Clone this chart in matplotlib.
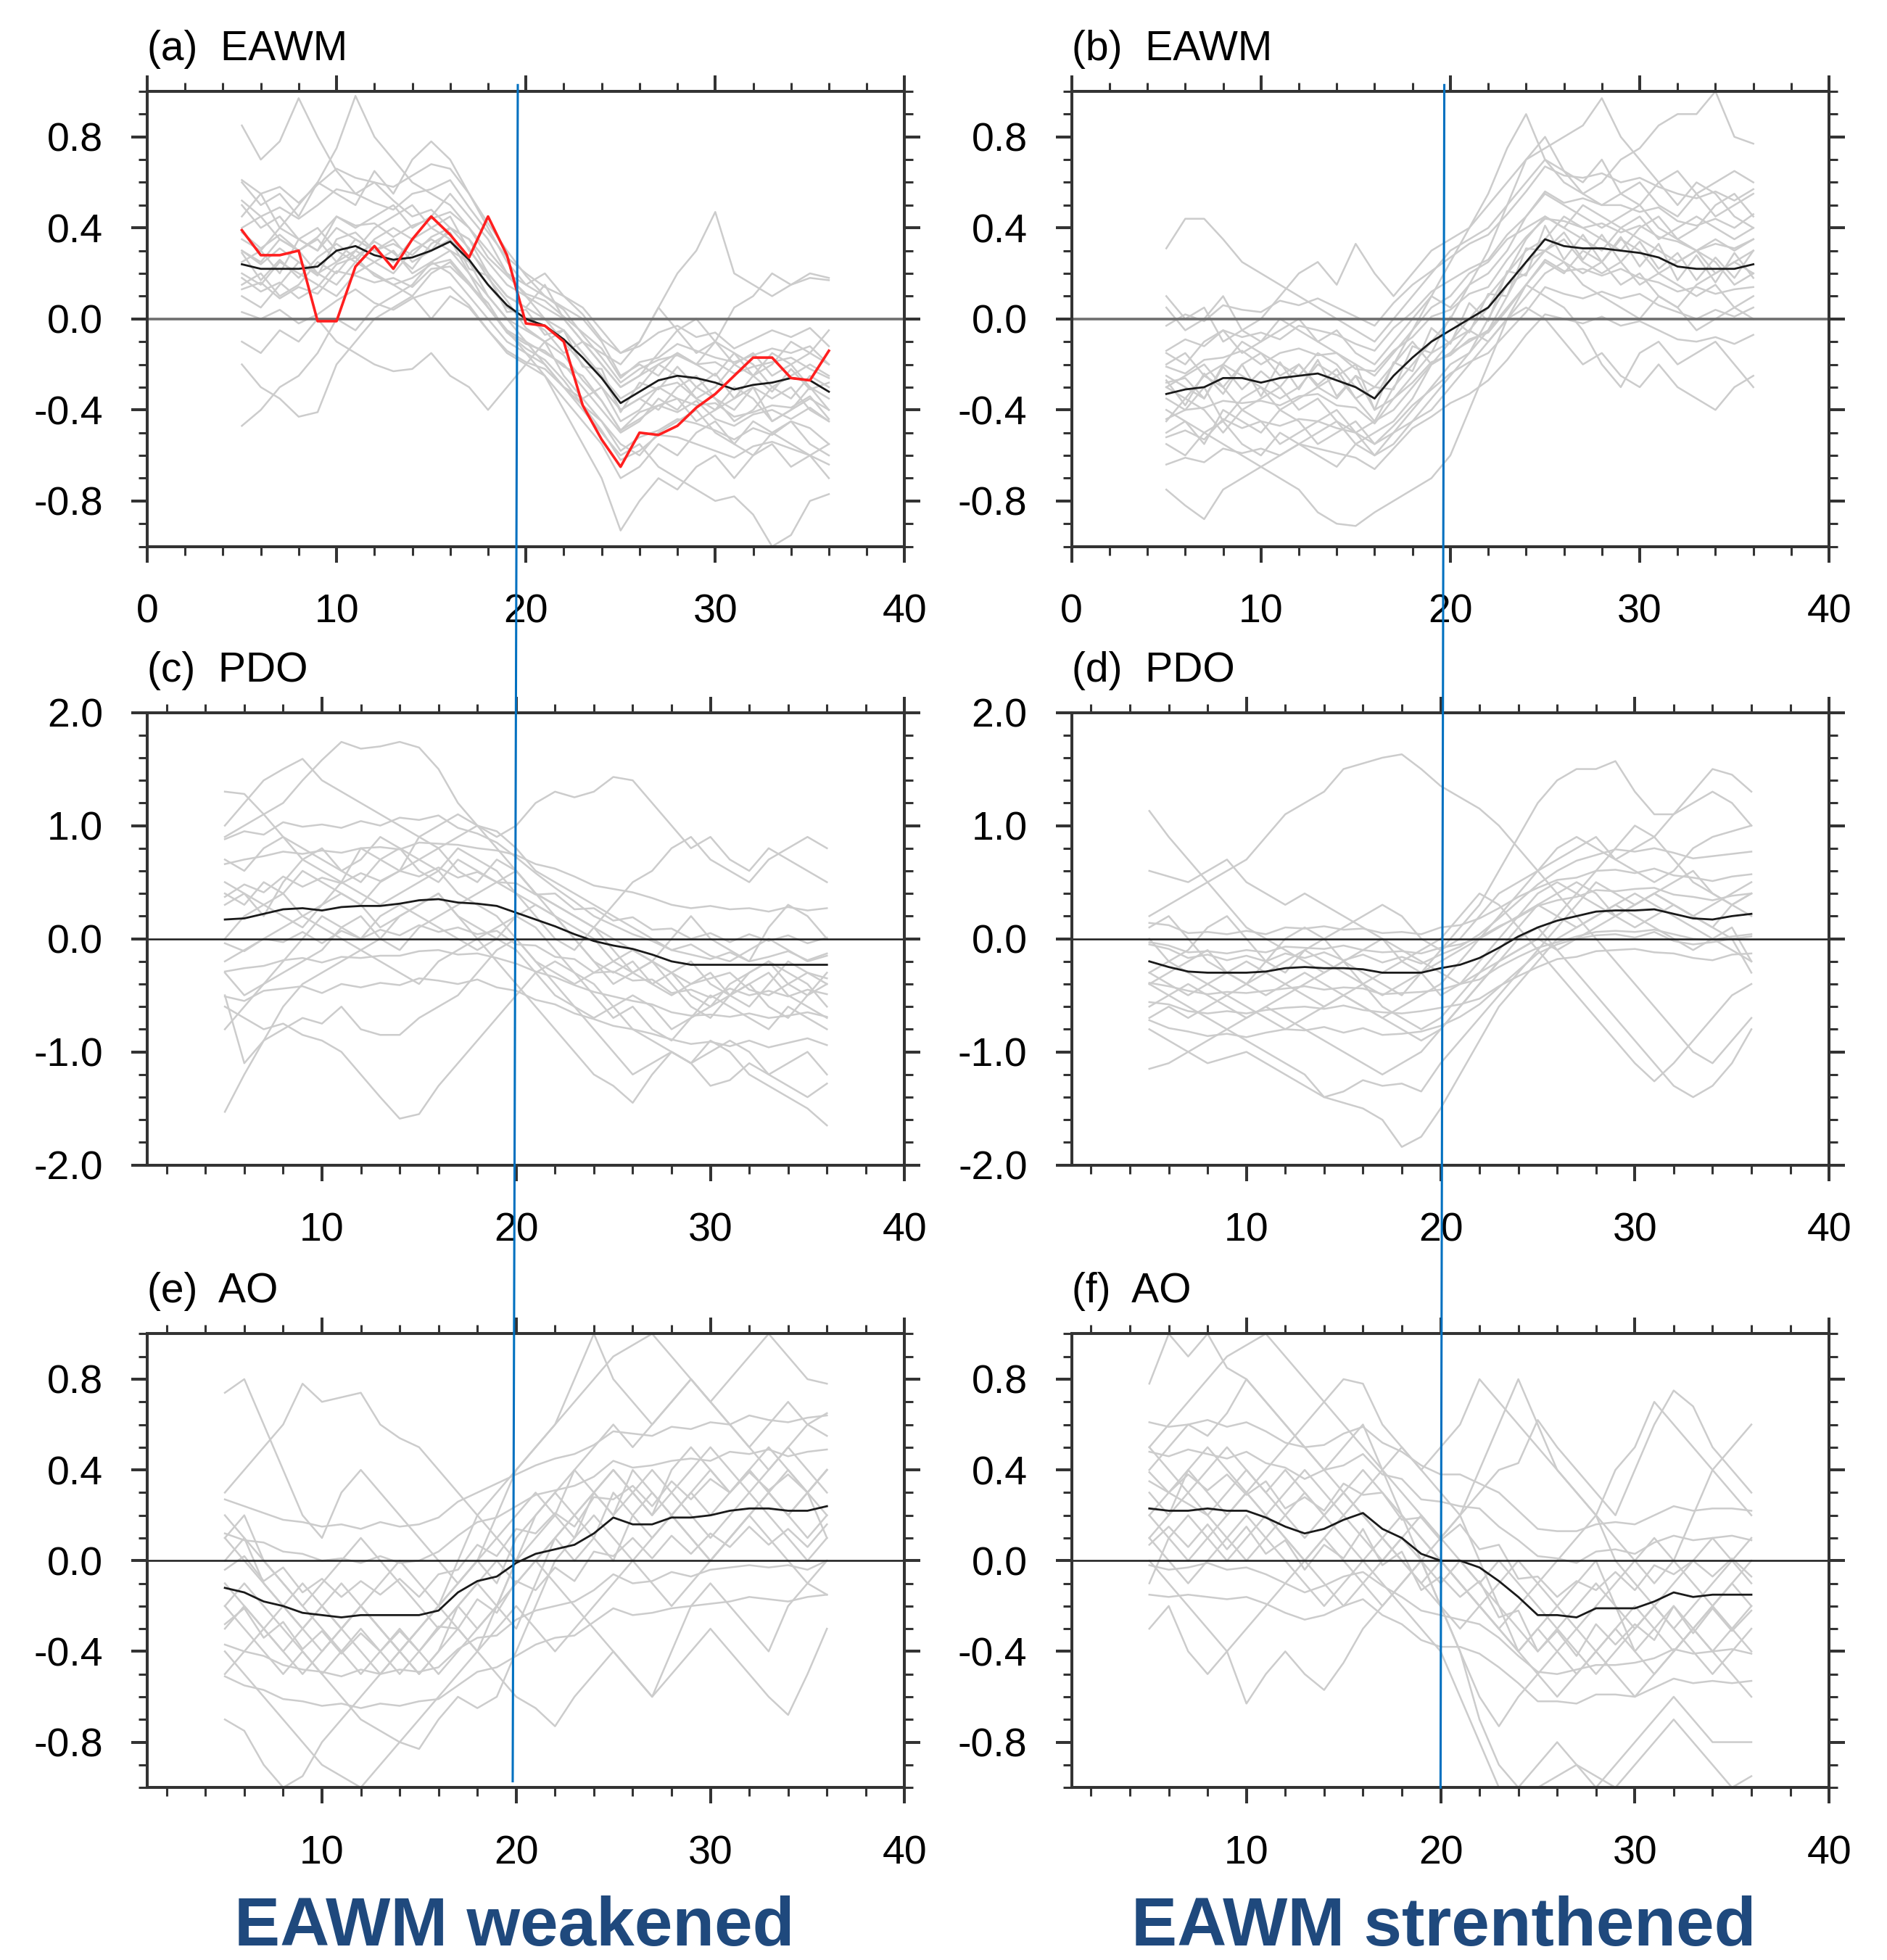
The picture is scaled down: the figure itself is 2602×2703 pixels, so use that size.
import numpy as np
import matplotlib
matplotlib.use('Agg')
import matplotlib.pyplot as plt
from matplotlib.lines import Line2D
from matplotlib.ticker import FixedLocator, MultipleLocator, FormatStrFormatter

plt.rcParams['font.family'] = ['Liberation Sans', 'DejaVu Sans']
plt.rcParams['axes.unicode_minus'] = False

# lead/lag (years), all series below are x100
days = list(range(5, 37))

# (a) EAWM, weakened
a_mean = [24, 22, 22, 22, 23, 30, 32, 28, 26, 27, 30, 34, 26, 15, 6, 0,
          -3, -9, -17, -26, -37, -32, -27, -25, -26, -28, -31, -29, -28, -26, -27, -32]
a_obs = [39, 28, 28, 30, -1, -1, 23, 32, 22, 35, 45, 37, 27, 45, 28, -2,
         -3, -10, -38, -53, -65, -50, -51, -47, -39, -33, -25, -17, -17, -26, -27, -14]
a_members = [
    [85, 70, 78, 97, 80, 65, 55, 60, 52, 45, 48, 40, 35, 25, 15, 10, 5, 0, -10, -20, -30, -25, -20, -15, -20, -25, -15, -20, -30, -25, -20, -25],
    [45, 55, 40, 50, 60, 75, 98, 80, 70, 60, 55, 50, 40, 30, 20, 10, 0, -5, -15, -25, -40, -35, -30, -28, -35, -40, -35, -30, -45, -40, -35, -40],
    [-47, -40, -30, -25, -15, 0, -5, 5, 10, 15, 25, 20, 10, 0, -10, -15, -20, -30, -35, -45, -55, -60, -50, -45, -40, -50, -55, -45, -50, -55, -60, -55],
    [-20, -30, -35, -43, -41, -20, -10, 0, 5, 10, 0, 10, 5, -5, -15, -20, -25, -35, -45, -55, -70, -65, -55, -60, -50, -45, -55, -60, -50, -45, -55, -60],
    [60, 50, 55, 45, 60, 55, 50, 65, 55, 70, 78, 70, 55, 40, 25, 15, 20, 10, 5, -5, -15, -10, 5, -5, -15, -10, -20, -15, -25, -20, -15, -20],
    [30, 25, 35, 30, 20, 25, 35, 30, 25, 35, 40, 45, 30, 20, 10, 5, 15, 0, -10, -15, -20, -10, 5, 20, 30, 47, 20, 15, 10, 15, 20, 18],
    [15, 20, 10, 15, 25, 20, 30, 25, 20, 30, 35, 30, 20, 5, -5, -15, -25, -40, -55, -70, -93, -80, -70, -75, -65, -60, -70, -60, -55, -65, -60, -70],
    [35, 30, 40, 35, 30, 40, 35, 30, 35, 25, 30, 35, 20, 10, 0, -10, -20, -30, -40, -50, -60, -55, -65, -70, -75, -80, -78, -86, -100, -95, -80, -77],
    [-10, -15, -5, -10, 0, -10, -15, -20, -23, -22, -15, -25, -30, -40, -30, -20, -10, -25, -35, -30, -45, -40, -30, -35, -45, -40, -30, -35, -45, -40, -30, -35],
    [20, 15, 25, 20, 15, 10, 20, 25, 30, 20, 25, 30, 25, 15, 5, 0, -5, -15, -10, -20, -30, -25, -15, -5, 0, -10, 5, 10, 20, 15, 18, 17],
    [25, 30, 20, 35, 40, 30, 25, 35, 40, 35, 30, 40, 35, 20, 10, 5, 0, -10, -20, -30, -40, -35, -40, -30, -25, -35, -40, -30, -35, -30, -40, -45],
    [50, 40, 45, 35, 30, 45, 40, 45, 50, 40, 45, 55, 45, 35, 20, 15, 10, 5, 0, -10, -25, -20, -25, -15, -20, -10, -15, -25, -20, -10, -15, -5],
    [10, 5, 15, 25, 20, 15, 25, 20, 15, 10, 20, 25, 15, 5, -5, -10, -15, -20, -30, -40, -50, -45, -35, -40, -30, -35, -45, -40, -30, -35, -25, -30],
    [40, 45, 35, 30, 35, 25, 30, 40, 45, 50, 40, 35, 25, 10, 0, -5, -10, -5, -15, -25, -35, -30, -20, -25, -35, -30, -20, -25, -15, -20, -30, -40],
    [52, 45, 49, 44, 50, 57, 55, 51, 48, 55, 57, 61, 49, 38, 27, 20, 14, 10, 2, -9, -15, -12, -6, -3, -8, -6, -13, -9, -5, -8, -4, -12],
    [3, 0, 4, -2, 2, 8, 13, 7, 4, 9, 12, 14, 6, -5, -14, -19, -22, -30, -38, -45, -58, -52, -49, -44, -46, -49, -53, -48, -51, -45, -48, -55],
    [38, 31, 37, 30, 36, 45, 41, 42, 36, 41, 44, 47, 40, 27, 19, 11, 8, 1, -6, -13, -26, -19, -17, -11, -14, -17, -19, -16, -13, -15, -12, -20],
    [13, 16, 9, 14, 11, 21, 19, 16, 18, 14, 22, 23, 15, 7, -6, -11, -14, -21, -25, -36, -49, -41, -38, -35, -38, -37, -43, -41, -38, -39, -34, -44],
    [61, 55, 58, 51, 59, 66, 62, 60, 58, 63, 68, 66, 55, 42, 30, 19, 10, 4, -7, -17, -28, -22, -18, -16, -20, -19, -24, -21, -19, -17, -22, -26],
    [18, 12, 16, 9, 14, 24, 27, 19, 15, 18, 24, 26, 16, 5, -6, -13, -18, -27, -38, -49, -62, -58, -51, -52, -55, -58, -61, -56, -54, -57, -60, -64],
    [29, 17, 26, 18, 27, 33, 27, 34, 29, 22, 33, 38, 22, 19, 3, 4, -7, -5, -21, -22, -41, -28, -31, -21, -30, -24, -35, -25, -32, -22, -31, -28],
    [30, 24, 31, 25, 19, 35, 38, 30, 33, 28, 36, 40, 31, 18, 8, -4, -10, -16, -27, -36, -49, -44, -38, -41, -36, -44, -47, -42, -40, -44, -39, -45],
]

# (b) EAWM, strengthened
b_mean = [-33, -31, -30, -26, -26, -28, -26, -25, -24, -27, -30, -35, -25, -17, -10, -5,
          0, 5, 15, 25, 35, 32, 31, 31, 30, 29, 27, 23, 22, 22, 22, 24]
b_members = [
    [31, 44, 44, 35, 25, 20, 15, 10, 5, 0, -5, -10, 0, 10, 20, 30, 35, 40, 50, 60, 70, 60, 55, 50, 55, 60, 50, 45, 55, 60, 65, 60],
    [-75, -82, -88, -75, -70, -65, -60, -55, -50, -45, -55, -60, -50, -45, -40, -30, -20, -10, 0, 10, 20, 25, 15, 10, 5, 0, 10, 5, -5, 0, 5, 10],
    [-40, -45, -50, -55, -60, -65, -70, -75, -85, -90, -91, -85, -80, -75, -70, -60, -40, -20, 0, 15, 25, 20, 30, 25, 15, 20, 10, 5, 15, 20, 25, 20],
    [10, 0, 5, -10, -5, 0, 10, 20, 25, 15, 33, 20, 10, 20, 30, 35, 40, 50, 60, 70, 80, 65, 60, 70, 55, 50, 60, 65, 55, 45, 50, 55],
    [-30, -35, -25, -30, -40, -35, -30, -40, -35, -45, -50, -45, -30, -20, -10, 0, 15, 30, 50, 70, 75, 80, 85, 97, 80, 70, 60, 50, 60, 55, 45, 40],
    [-20, -15, -25, -20, -10, -15, -20, -25, -15, -20, -30, -35, -20, -5, 10, 25, 40, 55, 75, 90, 70, 65, 55, 60, 70, 75, 85, 90, 90, 100, 80, 77],
    [-35, -40, -30, -45, -35, -30, -40, -35, -30, -25, -35, -45, -40, -30, -20, -10, -5, -10, 0, 5, 0, -10, -20, -15, -25, -30, -20, -30, -35, -40, -30, -25],
    [-50, -45, -55, -40, -45, -50, -40, -45, -55, -50, -45, -55, -50, -40, -30, -20, -15, -5, 5, 15, 10, 5, -5, -20, -30, -15, -10, -20, -15, -10, -20, -30],
    [-15, -20, -10, -5, -15, -10, 0, -5, -10, -15, -20, -25, -15, -5, 5, 10, 20, 25, 35, 40, 45, 40, 35, 30, 40, 35, 30, 25, 30, 35, 30, 35],
    [-25, -30, -35, -20, -25, -30, -35, -30, -20, -25, -20, -40, -35, -25, -15, -10, 0, 10, 20, 30, 35, 45, 40, 35, 30, 40, 45, 35, 30, 20, 25, 30],
    [-45, -35, -40, -50, -40, -45, -55, -50, -45, -40, -50, -60, -55, -45, -35, -25, -15, 0, 15, 20, 30, 25, 20, 25, 35, 30, 20, 15, 10, 15, 5, 0],
    [5, -5, 0, 10, -5, -10, -5, 0, -10, -5, -15, -20, -10, 0, 10, 5, 15, 20, 30, 45, 55, 50, 45, 40, 45, 50, 40, 35, 40, 50, 55, 45],
    [-55, -60, -50, -45, -55, -60, -50, -55, -60, -65, -55, -50, -45, -35, -20, -15, -10, -5, 10, 25, 30, 35, 25, 20, 25, 15, 20, 25, 30, 25, 15, 20],
    [-30, -25, -20, -30, -20, -15, -25, -20, -30, -35, -25, -30, -20, -10, -20, -15, -5, 5, 20, 35, 45, 40, 50, 45, 40, 45, 35, 40, 45, 40, 35, 40],
    [-14, -9, -12, -5, -8, -6, -9, -3, -5, -7, -11, -14, -4, 3, 12, 17, 22, 26, 37, 45, 56, 51, 53, 50, 50, 47, 49, 43, 41, 44, 40, 46],
    [-52, -49, -53, -44, -48, -45, -47, -44, -45, -48, -50, -55, -47, -38, -31, -24, -19, -15, -6, 3, 14, 11, 9, 12, 9, 11, 6, 3, 0, 4, 1, 5],
    [-21, -24, -18, -17, -14, -20, -15, -13, -16, -15, -22, -23, -14, -8, 1, 4, 11, 14, 26, 36, 44, 43, 40, 42, 38, 41, 36, 34, 30, 33, 31, 35],
    [-44, -40, -39, -36, -37, -36, -38, -34, -33, -38, -39, -46, -35, -28, -19, -16, -9, -6, 4, 15, 26, 21, 22, 19, 22, 18, 16, 12, 14, 11, 13, 14],
    [-3, 2, -1, 6, 4, 3, 8, 6, 9, 5, 1, -3, 7, 15, 21, 27, 33, 37, 46, 56, 67, 63, 62, 64, 60, 62, 58, 55, 53, 56, 52, 57],
    [-64, -61, -63, -57, -59, -57, -60, -55, -57, -59, -61, -66, -57, -48, -43, -37, -33, -27, -18, -7, 2, 0, -2, 1, -3, -1, -5, -9, -10, -8, -11, -7],
    [-27, -38, -24, -33, -20, -34, -19, -31, -18, -34, -25, -40, -19, -23, -4, -11, 7, -1, 21, 19, 41, 26, 37, 25, 36, 23, 33, 17, 28, 16, 29, 18],
    [-28, -26, -35, -21, -31, -23, -30, -20, -29, -22, -35, -30, -31, -12, -15, 1, -6, 11, 10, 31, 30, 38, 26, 37, 25, 34, 22, 29, 17, 27, 18, 30],
]

# (c) PDO, weakened
c_mean = [17, 18, 22, 26, 27, 25, 28, 29, 29, 31, 34, 35, 32, 31, 29, 23,
          17, 11, 4, -2, -6, -9, -14, -20, -23, -23, -23, -23, -23, -23, -23, -23]
c_members = [
    [90, 100, 110, 120, 140, 158, 174, 168, 170, 174, 169, 150, 120, 100, 80, 60, 40, 30, 20, 10, 0, -10, -20, -30, -40, -35, -30, -45, -50, -40, -30, -35],
    [100, 120, 140, 150, 159, 140, 130, 120, 110, 100, 90, 80, 90, 100, 95, 80, 60, 50, 40, 30, 20, 10, 0, -10, -5, -15, -20, -10, 0, -10, -20, -15],
    [-153, -120, -90, -60, -40, -30, -20, -10, -20, -30, -40, -20, -10, 0, 10, 20, 30, 20, 10, 0, -20, -30, -20, -40, -60, -70, -50, -40, -30, -50, -60, -70],
    [-60, -70, -80, -75, -85, -90, -100, -120, -140, -159, -155, -130, -110, -90, -70, -50, -30, -20, -30, -40, -60, -80, -90, -100, -110, -100, -90, -100, -120, -110, -100, -120],
    [-50, -110, -90, -80, -70, -75, -60, -80, -85, -85, -70, -60, -50, -30, -10, 0, -20, -40, -60, -80, -100, -120, -110, -100, -110, -130, -125, -110, -120, -130, -140, -128],
    [30, 40, 20, 50, 70, 60, 50, 80, 70, 60, 90, 100, 110, 100, 90, 100, 120, 130, 125, 130, 143, 140, 120, 100, 80, 90, 70, 60, 80, 70, 60, 50],
    [130, 128, 110, 90, 80, 70, 60, 50, 70, 80, 60, 50, 70, 60, 50, 40, 20, 0, -10, 10, 30, 50, 60, 80, 90, 70, 60, 50, 70, 80, 90, 80],
    [40, 30, 50, 40, 20, 30, 40, 30, 10, 20, 30, 40, 20, 0, -20, -40, -60, -80, -100, -120, -130, -145, -120, -100, -110, -90, -100, -120, -130, -140, -150, -165],
    [70, 60, 80, 90, 70, 80, 60, 70, 90, 80, 70, 60, 80, 70, 60, 40, 30, 20, 0, -20, -30, -20, -40, -50, -40, -30, -50, -60, -40, -20, -30, -40],
    [-20, -10, 0, 10, 20, 10, 0, -10, 0, 20, 30, 40, 20, 10, 0, -10, -30, -50, -60, -70, -60, -50, -60, -80, -70, -60, -50, -40, -60, -70, -50, -40],
    [0, 20, 30, 20, 10, 30, 50, 40, 30, 40, 50, 60, 40, 30, 20, 0, -20, -30, -40, -30, -20, -10, -20, -30, -50, -60, -40, -30, -20, -30, -40, -60],
    [-80, -60, -40, -30, -20, -10, 10, 20, 0, -10, 10, 20, 30, 40, 50, 60, 40, 20, 0, -20, -40, -30, -20, 0, 20, 0, -10, -20, 10, 30, 20, 0],
    [50, 40, 30, 40, 60, 50, 40, 30, 50, 60, 70, 80, 60, 50, 70, 60, 40, 30, 20, 10, -10, -30, -40, -30, -20, -40, -50, -30, -20, -40, -50, -30],
    [-30, -50, -40, -20, 0, 20, 10, 0, 20, 30, 20, 10, 0, -10, 0, 20, 10, -10, -30, -50, -70, -60, -80, -90, -70, -50, -60, -70, -80, -60, -70, -80],
    [66, 70, 73, 77, 75, 78, 76, 80, 81, 79, 85, 84, 83, 80, 78, 74, 66, 62, 55, 47, 44, 41, 36, 30, 27, 29, 26, 27, 24, 28, 25, 27],
    [-29, -26, -24, -19, -17, -21, -16, -17, -15, -15, -11, -10, -14, -13, -17, -22, -29, -34, -41, -47, -51, -55, -58, -65, -68, -67, -69, -66, -70, -68, -65, -69],
    [37, 48, 41, 55, 46, 54, 49, 58, 51, 60, 55, 63, 54, 59, 50, 49, 39, 40, 26, 27, 16, 19, 8, 9, 0, 5, -3, 4, -2, 3, -4, 1],
    [-4, -11, 0, -3, 6, -4, 7, 0, 8, 3, 12, 6, 10, 4, 7, -5, -6, -16, -18, -30, -29, -37, -36, -48, -45, -52, -44, -50, -46, -51, -45, -49],
    [88, 95, 92, 103, 99, 101, 98, 104, 100, 107, 105, 109, 98, 93, 85, 72, 58, 45, 33, 20, 12, 4, -2, -10, -14, -18, -12, -20, -16, -11, -19, -13],
    [-51, -55, -46, -44, -42, -48, -40, -43, -39, -41, -35, -37, -40, -36, -43, -46, -54, -58, -66, -71, -77, -80, -84, -89, -93, -91, -95, -90, -96, -92, -88, -94],
]

# (d) PDO, strengthened
d_mean = [-20, -25, -29, -30, -30, -30, -29, -26, -25, -26, -26, -27, -30, -30, -30, -26,
          -23, -17, -8, 2, 10, 16, 20, 24, 25, 25, 26, 22, 18, 17, 20, 22]
d_members = [
    [113, 90, 70, 50, 30, 10, 0, -10, -20, -30, -20, -10, 0, -10, -20, -30, -40, -30, -20, -10, 0, 20, 40, 60, 80, 100, 90, 70, 50, 40, 30, 20],
    [20, 30, 40, 50, 60, 70, 90, 110, 120, 130, 150, 155, 160, 163, 150, 135, 125, 115, 100, 80, 60, 40, 20, 0, -20, -40, -60, -80, -100, -110, -90, -70],
    [-80, -90, -100, -110, -105, -100, -110, -120, -130, -140, -145, -150, -160, -184, -175, -150, -120, -90, -60, -40, -20, 0, 10, 20, 30, 20, 10, 0, -10, 0, 10, -20],
    [-60, -50, -40, -50, -60, -70, -60, -50, -40, -30, -20, -30, -40, -50, -30, -10, 10, 30, 60, 90, 120, 140, 150, 150, 157, 130, 110, 110, 120, 130, 120, 100],
    [60, 55, 50, 60, 70, 50, 40, 30, 40, 30, 20, 10, 0, -20, -30, -20, -10, 0, 20, 40, 60, 80, 90, 80, 70, 80, 90, 110, 130, 150, 145, 130],
    [-30, -40, -50, -40, -30, -20, -30, -40, -50, -60, -50, -40, -30, -20, -10, 0, 20, 40, 30, 10, -10, -30, -50, -70, -90, -110, -126, -110, -90, -70, -50, -40],
    [-115, -110, -100, -90, -80, -70, -60, -70, -80, -90, -100, -110, -120, -110, -100, -80, -60, -40, -20, 0, 10, -10, -30, -50, -70, -90, -110, -130, -140, -130, -110, -80],
    [-40, -50, -60, -70, -80, -90, -100, -110, -120, -140, -135, -125, -130, -128, -135, -110, -90, -70, -50, -30, -10, 10, 30, 50, 40, 30, 40, 50, 60, 40, 30, 40],
    [0, -20, -10, 10, 20, 0, -20, -30, -10, 0, 10, 20, 30, 20, 0, -10, 0, 20, 40, 50, 60, 70, 80, 90, 70, 60, 50, 60, 80, 90, 95, 100],
    [-40, -30, -20, -10, -30, -40, -50, -40, -30, -40, -50, -60, -70, -60, -50, -40, -20, 0, 10, 20, 30, 20, 10, 20, 30, 40, 30, 20, 10, 0, -10, -20],
    [10, 20, 0, -20, -30, -40, -20, 0, 10, 0, -20, -40, -60, -70, -80, -70, -50, -30, -10, 10, 30, 40, 50, 40, 20, 10, 20, 30, 20, 10, 30, 40],
    [-70, -60, -70, -60, -50, -60, -70, -80, -70, -60, -50, -60, -70, -80, -90, -80, -60, -40, -20, -10, 0, -10, 0, 10, 20, 30, 40, 30, 20, 10, 0, -30],
    [-30, -20, -30, -40, -50, -40, -30, -20, -10, -20, -30, -40, -50, -40, -30, -50, -40, -20, 0, 20, 40, 50, 40, 30, 20, 30, 40, 30, 20, 30, 40, 50],
    [14, 12, 5, 6, 4, 7, 4, 10, 9, 11, 8, 9, 5, 6, 4, 10, 12, 18, 27, 37, 45, 52, 54, 60, 61, 58, 62, 56, 54, 51, 55, 57],
    [-56, -58, -64, -66, -64, -66, -63, -61, -60, -62, -59, -63, -65, -66, -64, -61, -58, -53, -42, -33, -25, -18, -16, -11, -10, -9, -12, -13, -17, -19, -14, -13],
    [-3, -6, -12, -11, -13, -10, -12, -7, -8, -9, -6, -10, -12, -11, -13, -8, -5, 1, 11, 19, 29, 34, 37, 43, 42, 44, 45, 39, 37, 34, 38, 40],
    [-39, -42, -46, -49, -47, -48, -46, -44, -42, -45, -43, -44, -49, -48, -47, -45, -40, -36, -25, -16, -8, -3, 2, 6, 7, 6, 8, 4, 0, -1, 2, 4],
    [-5, -9, -17, -14, -19, -15, -20, -13, -17, -12, -19, -14, -21, -16, -22, -14, -7, 4, 18, 33, 48, 60, 69, 74, 79, 77, 80, 76, 71, 73, 75, 77],
    [-72, -79, -82, -86, -84, -87, -83, -80, -81, -78, -83, -79, -85, -84, -82, -77, -69, -58, -43, -28, -13, -5, 0, 3, 4, 1, 6, -2, -5, -3, 0, 2],
]

# (e) AO, weakened
e_mean = [-12, -14, -18, -20, -23, -24, -25, -24, -24, -24, -24, -22, -14, -9, -7, -1,
          3, 5, 7, 12, 19, 16, 16, 19, 19, 20, 22, 23, 23, 22, 22, 24]
e_members = [
    [74, 80, 60, 40, 20, 10, 30, 40, 30, 20, 10, 0, -10, 0, 10, 20, 30, 20, 10, 30, 40, 30, 20, 40, 50, 40, 30, 40, 50, 40, 30, 40],
    [30, 40, 50, 60, 78, 70, 72, 74, 60, 54, 50, 40, 30, 20, 10, 0, 10, 20, 40, 50, 60, 50, 60, 70, 80, 70, 60, 50, 40, 50, 60, 55],
    [-70, -75, -90, -100, -95, -80, -70, -60, -50, -40, -30, -20, -30, -40, -20, 0, 20, 30, 40, 30, 20, 30, 40, 30, 20, 10, 20, 30, 20, 10, 0, 10],
    [-40, -50, -60, -70, -80, -90, -95, -100, -90, -80, -70, -60, -50, -40, -30, -20, -30, -40, -30, -20, -10, 0, 10, 20, 10, 0, 10, 20, 30, 20, 10, 20],
    [-20, -30, -40, -50, -40, -50, -60, -70, -75, -80, -83, -70, -60, -65, -60, -40, -20, 0, 10, 20, 10, 0, -10, -20, -10, 0, 10, 20, 10, 0, -10, 0],
    [-10, -20, -30, -20, -10, -20, -30, -20, -10, 0, -10, -20, 0, 20, 30, 40, 50, 60, 80, 100, 80, 70, 60, 70, 80, 70, 60, 50, 60, 70, 60, 65],
    [10, 0, -10, -20, -30, -40, -30, -20, -30, -40, -30, -20, -10, 0, 20, 40, 50, 60, 70, 80, 90, 95, 100, 90, 80, 70, 80, 90, 100, 90, 80, 78],
    [0, 10, -10, -20, -30, -20, -10, -20, -30, -40, -50, -40, -30, -40, -50, -60, -65, -73, -60, -50, -40, -50, -60, -40, -20, -10, -20, -30, -40, -20, -10, -15],
    [20, 10, 0, -10, -20, -30, -40, -50, -40, -30, -40, -50, -40, -30, -20, -10, 0, -10, -20, -30, -40, -50, -60, -50, -40, -30, -40, -50, -60, -68, -50, -30],
    [-30, -20, -30, -40, -30, -20, -30, -40, -50, -40, -30, -20, -10, 0, -10, 10, 20, 30, 20, 30, 40, 30, 20, 30, 40, 50, 40, 30, 40, 50, 40, 30],
    [-50, -40, -30, -40, -50, -40, -30, -20, -30, -40, -50, -40, -20, -10, 0, -10, 0, 10, 20, 10, 0, 20, 30, 20, 10, 0, 10, 20, 30, 40, 30, 20],
    [10, 20, 0, -10, -20, -10, 0, 10, 0, -10, -20, -30, -20, -10, -20, -30, -10, 10, 20, 30, 20, 40, 30, 20, 30, 20, 30, 40, 30, 20, 30, 40],
    [-20, -10, -20, -30, -40, -50, -40, -30, -40, -50, -40, -30, -20, -30, -20, 0, 0, 10, 0, 10, 30, 20, 10, 20, 30, 40, 30, 40, 30, 20, 30, 10],
    [12, 9, 8, 4, 3, 0, 1, -1, 2, -1, 0, 4, 11, 17, 19, 24, 29, 31, 33, 37, 44, 41, 42, 44, 45, 44, 48, 47, 49, 46, 48, 49],
    [-37, -40, -42, -46, -48, -49, -51, -48, -50, -48, -49, -47, -39, -34, -33, -26, -22, -20, -18, -13, -6, -10, -9, -5, -7, -4, -3, -2, -3, -2, -4, 0],
    [-4, 2, -9, -3, -14, -8, -16, -9, -15, -8, -16, -6, -4, 7, 2, 14, 12, 21, 15, 28, 27, 33, 24, 35, 27, 36, 30, 39, 31, 38, 30, 40],
    [-28, -21, -34, -27, -39, -31, -41, -32, -40, -31, -40, -29, -30, -17, -23, -9, -13, -3, -9, 4, 2, 10, 1, 11, 3, 12, 6, 15, 7, 14, 6, 16],
    [27, 24, 21, 18, 17, 15, 16, 14, 17, 15, 16, 19, 26, 30, 34, 38, 42, 45, 47, 51, 57, 56, 55, 59, 58, 61, 60, 64, 62, 61, 63, 64],
    [-51, -55, -57, -61, -62, -64, -63, -65, -63, -64, -62, -61, -55, -49, -47, -42, -37, -34, -33, -27, -21, -24, -23, -21, -20, -19, -18, -16, -17, -18, -16, -15],
]

# (f) AO, strengthened
f_mean = [23, 22, 22, 23, 22, 22, 19, 15, 12, 14, 18, 21, 14, 10, 3, 0,
          0, -3, -9, -16, -24, -24, -25, -21, -21, -21, -18, -14, -16, -15, -15, -15]
f_members = [
    [78, 100, 90, 100, 85, 80, 70, 60, 50, 40, 30, 20, 10, 0, -10, -20, -30, -20, -10, 0, -10, -20, -30, -20, -10, 0, 10, 0, -10, -20, -10, 0],
    [50, 60, 70, 80, 90, 95, 100, 90, 80, 70, 60, 50, 40, 20, 0, -20, -40, -70, -90, -100, -100, -95, -90, -95, -100, -90, -80, -70, -80, -90, -100, -95],
    [40, 50, 60, 55, 65, 80, 70, 60, 50, 40, 50, 60, 40, 30, 20, 10, 20, 40, 60, 80, 60, 40, 30, 20, 10, 0, -10, 0, 20, 40, 50, 60],
    [30, 20, 40, 30, 20, 30, 40, 50, 60, 70, 80, 78, 60, 50, 40, 30, 20, 0, -20, -40, -30, -20, -10, 0, -20, -40, -30, -20, -30, -40, -30, -20],
    [-30, -20, -40, -50, -40, -30, -20, -10, 0, 10, 0, -10, -20, -10, 0, 10, 20, 30, 40, 43, 62, 50, 40, 30, 20, 40, 60, 75, 68, 50, 40, 30],
    [0, -10, -20, -30, -40, -63, -50, -40, -50, -57, -45, -30, -20, -10, 0, -20, -40, -60, -73, -60, -50, -40, -30, -40, -50, -60, -50, -40, -30, -40, -50, -60],
    [10, 20, 30, 20, 10, 0, 10, 20, 30, 20, 10, 0, -10, -20, -30, -40, -60, -80, -100, -100, -90, -80, -90, -100, -90, -80, -70, -60, -70, -80, -80, -80],
    [20, 10, 0, 10, 20, 30, 20, 10, 0, 10, 20, 30, 40, 50, 40, 50, 60, 80, 70, 60, 50, 40, 30, 20, 0, -10, -20, -30, -20, -10, 0, 10],
    [35, 30, 25, 20, 30, 40, 30, 20, 10, 20, 30, 20, 10, 0, -10, 0, -10, -20, -30, -20, -10, 0, 10, 20, 40, 50, 70, 60, 50, 40, 30, 20],
    [10, 0, -10, 0, 10, 20, 10, 0, -10, -20, -10, 0, 10, 20, 10, 0, -10, -20, -30, -40, -30, -40, -50, -40, -30, -20, -30, -40, -30, -20, -10, -20],
    [50, 40, 30, 40, 50, 40, 30, 40, 30, 20, 30, 40, 30, 20, 10, 0, -10, -20, -30, -40, -50, -60, -50, -40, -30, -40, -50, -40, -30, -20, -30, -40],
    [-10, 10, 20, 10, 0, 10, 20, 10, 0, -10, -20, -10, 0, 10, 0, -10, 0, -10, -20, -30, -40, -30, -20, -10, -20, -30, -20, -10, 0, 10, 0, -10],
    [20, 30, 40, 50, 40, 30, 20, 30, 40, 30, 20, 10, 0, 10, 20, 10, 0, -10, 0, -10, -20, -30, -40, -50, -40, -30, -20, -30, -40, -50, -40, -30],
    [48, 46, 49, 47, 45, 48, 43, 41, 36, 40, 42, 47, 38, 36, 27, 26, 24, 23, 15, 9, 2, 1, -1, 4, 5, 3, 8, 11, 9, 10, 11, 9],
    [-2, -4, -3, -1, -4, -3, -6, -10, -14, -11, -7, -5, -11, -16, -22, -24, -26, -28, -34, -42, -49, -50, -48, -46, -46, -45, -43, -39, -41, -40, -39, -41],
    [39, 30, 38, 31, 38, 29, 35, 23, 28, 22, 34, 29, 30, 18, 19, 9, 16, 5, 7, -8, -7, -16, -9, -13, -5, -13, -2, -6, 0, -7, 1, -7],
    [7, 15, 6, 16, 5, 15, 3, 9, -4, 7, 1, 14, -2, 4, -13, -7, -16, -9, -25, -22, -40, -31, -42, -28, -37, -28, -35, -20, -32, -21, -31, -22],
    [61, 59, 60, 62, 59, 61, 57, 52, 50, 51, 56, 59, 52, 48, 42, 38, 38, 34, 30, 22, 14, 13, 13, 16, 17, 16, 20, 24, 22, 23, 23, 22],
    [-15, -16, -15, -16, -17, -16, -19, -23, -26, -24, -20, -17, -24, -28, -35, -38, -38, -41, -47, -54, -62, -62, -63, -59, -59, -60, -56, -52, -54, -53, -54, -53],
]

titles = ['(a)  EAWM', '(b)  EAWM', '(c)  PDO', '(d)  PDO', '(e)  AO', '(f)  AO']
col_labels = ['EAWM weakened', 'EAWM strenthened']

GREY = '#cccccc'
AXC = '#333333'


def style_axes(ax, xlim, xmajor, ylim, ymajor, yminor, yfmt):
    ax.set_xlim(*xlim)
    ax.set_ylim(*ylim)
    ax.xaxis.set_major_locator(FixedLocator(xmajor))
    ax.xaxis.set_minor_locator(MultipleLocator(2))
    ax.yaxis.set_major_locator(FixedLocator(ymajor))
    ax.yaxis.set_minor_locator(MultipleLocator(yminor))
    ax.yaxis.set_major_formatter(FormatStrFormatter(yfmt))
    ax.xaxis.set_major_formatter(FormatStrFormatter('%d'))
    ax.tick_params(which='both', direction='out', top=True, right=True,
                   labeltop=False, labelright=False, color=AXC)
    ax.tick_params(which='major', length=16, width=2.9, labelsize=40)
    ax.tick_params(which='minor', length=8.6, width=2.2)
    ax.tick_params(axis='x', which='major', pad=31)
    ax.tick_params(axis='y', which='major', pad=28)
    for sp in ax.spines.values():
        sp.set_linewidth(2.9)
        sp.set_color(AXC)


def draw_panel(ax, title, mean, members, obs=None, eawm=False):
    x = np.array(days)
    for m in members:
        ax.plot(x, np.array(m) / 100.0, color=GREY, lw=1.8, zorder=1)
    if eawm:
        ax.axhline(0, color='#6e6e6e', lw=2.6, zorder=2)
    else:
        ax.axhline(0, color='#1a1a1a', lw=1.8, zorder=2)
    ax.plot(x, np.array(mean) / 100.0, color='#1a1a1a', lw=2.0, zorder=3)
    if obs is not None:
        ax.plot(x, np.array(obs) / 100.0, color='#ff1f1f', lw=2.6, zorder=4)
    ax.text(0.0, 1.0686, title, transform=ax.transAxes, fontsize=41,
            ha='left', va='baseline')


fig = plt.figure(figsize=(26.02, 27.03), dpi=100)

lefts = [0.0780, 0.5679]
width = 0.4014
rows = [(0.7212, 0.2322), (0.4056, 0.2309), (0.0880, 0.2315)]

panels = [
    (a_mean, a_members, a_obs),
    (b_mean, b_members, None),
    (c_mean, c_members, None),
    (d_mean, d_members, None),
    (e_mean, e_members, None),
    (f_mean, f_members, None),
]

for i, (mean, members, obs) in enumerate(panels):
    r, c = divmod(i, 2)
    bottom, height = rows[r]
    ax = fig.add_axes([lefts[c], bottom, width, height])
    draw_panel(ax, titles[i], mean, members, obs, eawm=(r == 0))
    if r == 0:
        style_axes(ax, (0, 40), [0, 10, 20, 30, 40], (-1.0, 1.0),
                   [-0.8, -0.4, 0.0, 0.4, 0.8], 0.1, '%.1f')
    elif r == 1:
        style_axes(ax, (1, 40), [10, 20, 30, 40], (-2.0, 2.0),
                   [-2.0, -1.0, 0.0, 1.0, 2.0], 0.2, '%.1f')
    else:
        style_axes(ax, (1, 40), [10, 20, 30, 40], (-1.0, 1.0),
                   [-0.8, -0.4, 0.0, 0.4, 0.8], 0.1, '%.1f')

# year-20 marker across each column
fig.add_artist(Line2D([0.2744, 0.2717], [0.9566, 0.0912], transform=fig.transFigure,
                      color='#0070C0', lw=2.2, zorder=10))
fig.add_artist(Line2D([0.7654, 0.7634], [0.9566, 0.0880], transform=fig.transFigure,
                      color='#0070C0', lw=2.2, zorder=10))

fig.text(0.2727, 0.0, col_labels[0], ha='center', va='bottom', fontsize=68,
         fontweight='bold', color='#1F497D')
fig.text(0.7650, 0.0, col_labels[1], ha='center', va='bottom', fontsize=68,
         fontweight='bold', color='#1F497D')

fig.savefig('out.png', dpi=100)
